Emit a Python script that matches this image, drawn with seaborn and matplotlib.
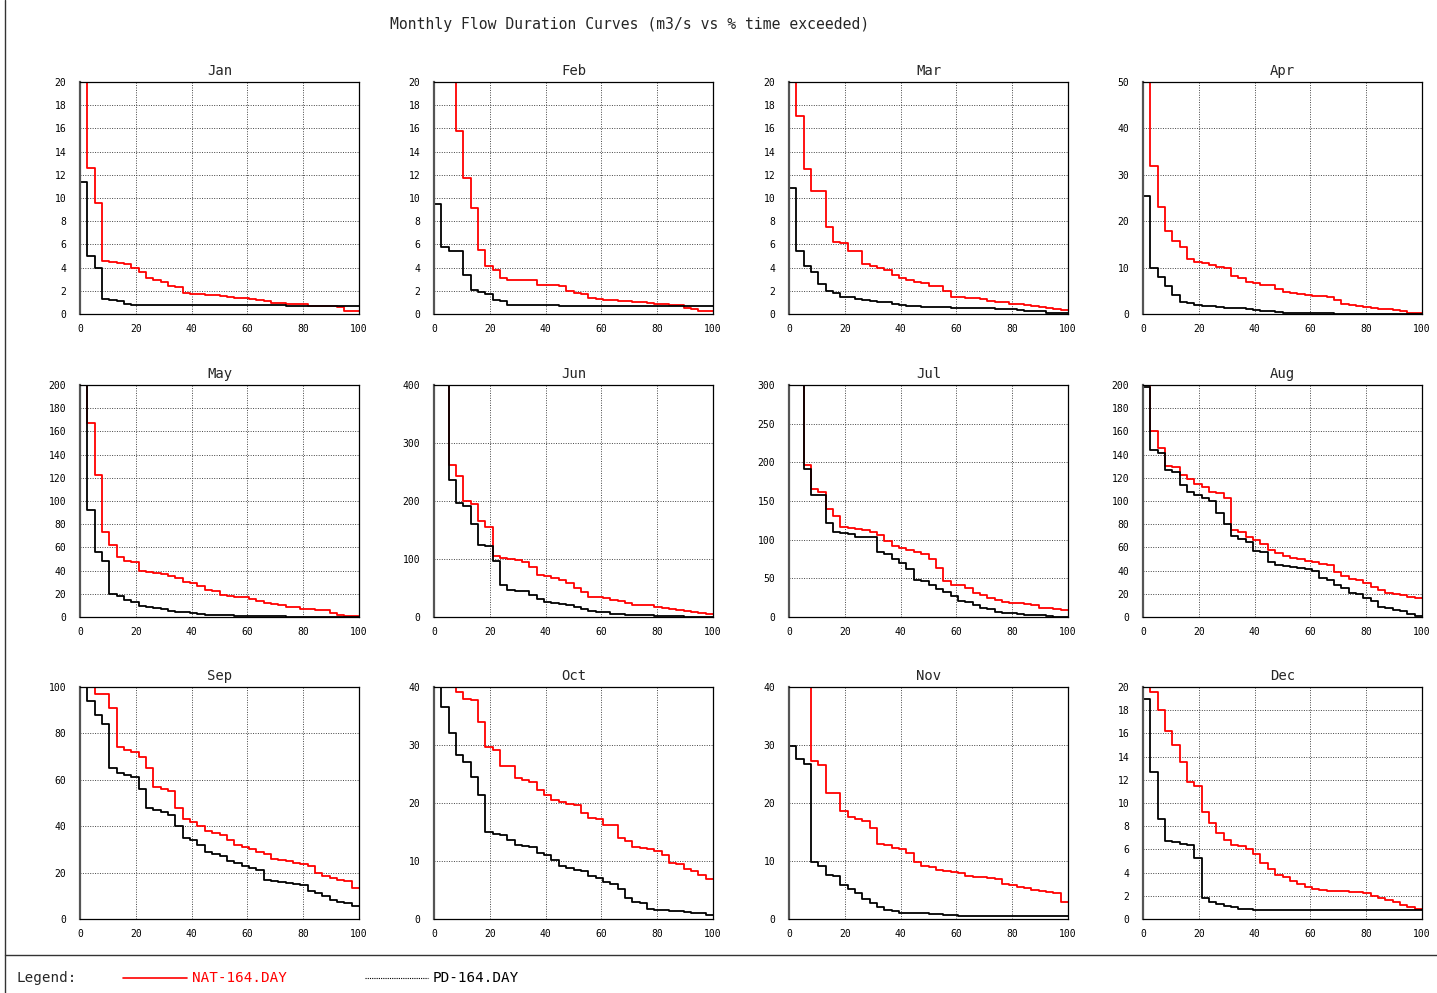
import numpy as np
import pandas as pd
import seaborn as sns
import matplotlib.pyplot as plt
from matplotlib.ticker import MultipleLocator

months = ['Jan', 'Feb', 'Mar', 'Apr', 'May', 'Jun',
          'Jul', 'Aug', 'Sep', 'Oct', 'Nov', 'Dec']

# sorted flows (m3/s), one value per exceedance step (38 steps over 0-100 %)
nat_flow = {
    'Jan': [30, 12.6, 9.6, 4.6, 4.5, 4.4, 4.3, 4.0, 3.6, 3.1, 2.9, 2.8, 2.4, 2.3, 1.8, 1.7, 1.7, 1.65, 1.6,
            1.55, 1.45, 1.4, 1.4, 1.3, 1.25, 1.1, 0.95, 0.95, 0.9, 0.85, 0.85, 0.7, 0.7, 0.7, 0.65, 0.6, 0.3, 0.3],
    'Feb': [40, 40, 40, 15.8, 11.7, 9.1, 5.5, 4.1, 3.8, 3.1, 2.9, 2.9, 2.9, 2.9, 2.5, 2.5, 2.5, 2.45, 2.0,
            1.8, 1.75, 1.35, 1.3, 1.25, 1.2, 1.15, 1.1, 1.05, 1.0, 0.95, 0.9, 0.85, 0.8, 0.75, 0.55, 0.45, 0.3, 0.25],
    'Mar': [40, 17.1, 12.5, 10.6, 10.6, 7.5, 6.2, 6.1, 5.4, 5.4, 4.3, 4.1, 4.0, 3.8, 3.4, 3.1, 2.9, 2.8, 2.7,
            2.4, 2.4, 2.0, 1.5, 1.45, 1.4, 1.35, 1.3, 1.1, 1.05, 1.0, 0.85, 0.85, 0.75, 0.65, 0.6, 0.55, 0.4, 0.35],
    'Apr': [80, 32, 23, 17.8, 15.7, 14.4, 11.8, 11.3, 10.9, 10.6, 10.2, 9.9, 8.1, 7.8, 6.9, 6.7, 6.3, 6.2, 5.4,
            4.7, 4.6, 4.4, 4.0, 3.9, 3.8, 3.6, 3.1, 2.2, 2.0, 1.7, 1.5, 1.4, 1.1, 1.0, 0.9, 0.7, 0.3, 0.2],
    'May': [400, 167, 122, 73, 62, 52, 48, 47, 40, 39, 38, 37, 35, 34, 30, 29, 27, 23, 22,
            19, 18, 17, 17, 15.5, 14, 12, 11.5, 10.5, 8.5, 8.5, 7, 6.5, 6, 6, 3.5, 2, 1, 0.5],
    'Jun': [600, 600, 262, 243, 200, 195, 165, 155, 106, 102, 100, 98, 95, 87, 73, 70, 67, 64, 58,
            50, 43, 35, 34, 32, 30, 27, 24, 21, 21, 20, 18, 15, 13, 12, 10, 9, 7, 5],
    'Jul': [400, 400, 196, 165, 162, 140, 130, 116, 115, 114, 113, 110, 106, 98, 92, 89, 87, 84, 81,
            75, 63, 46, 41, 41, 37, 31, 29, 25, 22, 19, 18, 18, 17, 16, 12, 11, 10, 9],
    'Aug': [300, 160, 146, 130, 129, 122, 119, 115, 112, 108, 107, 103, 75, 73, 69, 66, 63, 58, 55,
            53, 51, 50, 48, 47, 46, 45, 39, 35, 33, 32, 29, 26, 23, 21, 20, 19, 17, 16],
    'Sep': [150, 150, 97, 97, 91, 74, 73, 72, 70, 65, 57, 56, 55, 48, 43, 42, 40, 38, 37,
            36, 34, 32, 31, 30, 29, 28, 26, 25.5, 25, 24, 23.5, 23, 20, 18.5, 17.5, 17, 16.5, 13.5],
    'Oct': [60, 60, 60, 39.2, 38, 37.7, 34, 29.6, 29.1, 26.4, 26.4, 24.3, 24.0, 23.7, 22.2, 21.4, 20.5, 20.2, 19.9,
            19.7, 18.3, 17.4, 17.2, 16.2, 16.2, 14.0, 13.4, 12.4, 12.2, 12.0, 11.8, 11.0, 9.7, 9.4, 8.6, 8.2, 7.6, 6.9],
    'Nov': [60, 60, 60, 27.3, 26.5, 21.8, 21.7, 18.7, 17.6, 17.3, 16.9, 15.7, 13.0, 12.8, 12.3, 12.0, 11.4, 9.8, 9.2,
            9.0, 8.5, 8.3, 8.1, 7.9, 7.5, 7.3, 7.3, 7.1, 6.9, 6.0, 5.8, 5.5, 5.4, 5.0, 4.8, 4.6, 4.5, 3.0],
    'Dec': [40, 19.6, 18.0, 16.2, 15.0, 13.5, 11.8, 11.5, 9.2, 8.3, 7.4, 6.8, 6.4, 6.3, 6.0, 5.6, 4.8, 4.3, 3.8,
            3.6, 3.3, 3.0, 2.8, 2.6, 2.5, 2.45, 2.4, 2.4, 2.35, 2.3, 2.2, 2.0, 1.8, 1.6, 1.5, 1.2, 1.0, 0.9],
}

pd_flow = {
    'Jan': [11.4, 5.0, 4.0, 1.3, 1.2, 1.15, 0.85, 0.8, 0.8, 0.8, 0.75, 0.75, 0.75, 0.75, 0.75, 0.75, 0.75, 0.75, 0.75,
            0.75, 0.75, 0.75, 0.75, 0.75, 0.75, 0.75, 0.75, 0.75, 0.73, 0.73, 0.73, 0.73, 0.72, 0.72, 0.72, 0.72, 0.72, 0.72],
    'Feb': [9.5, 5.8, 5.4, 5.4, 3.4, 2.1, 1.9, 1.7, 1.2, 1.1, 0.8, 0.8, 0.78, 0.76, 0.75, 0.75, 0.74, 0.73, 0.72,
            0.72, 0.7, 0.7, 0.7, 0.7, 0.7, 0.7, 0.7, 0.7, 0.7, 0.7, 0.7, 0.7, 0.7, 0.7, 0.7, 0.68, 0.68, 0.68],
    'Mar': [10.9, 5.4, 4.1, 3.6, 2.6, 2.0, 1.8, 1.5, 1.45, 1.3, 1.2, 1.15, 1.05, 1.0, 0.9, 0.75, 0.7, 0.65, 0.62,
            0.6, 0.6, 0.58, 0.56, 0.55, 0.55, 0.55, 0.52, 0.5, 0.45, 0.45, 0.4, 0.35, 0.3, 0.28, 0.25, 0.05, 0.05, 0.05],
    'Apr': [25.4, 10.0, 7.9, 6.1, 4.0, 2.5, 2.4, 1.9, 1.8, 1.7, 1.6, 1.4, 1.3, 1.2, 1.0, 0.9, 0.7, 0.6, 0.5,
            0.3, 0.25, 0.2, 0.2, 0.15, 0.15, 0.12, 0.1, 0.08, 0.06, 0.05, 0.05, 0.05, 0.05, 0.05, 0.05, 0.05, 0.05, 0.05],
    'May': [300, 92, 56, 48, 20, 18, 15, 13, 9.5, 8.5, 7.5, 6.5, 5.5, 4.5, 4, 3.5, 3, 2, 1.8,
            1.5, 1.3, 1.2, 1.1, 1.0, 0.8, 0.7, 0.6, 0.5, 0.4, 0.4, 0.3, 0.3, 0.3, 0.3, 0.3, 0.3, 0.3, 0.3],
    'Jun': [600, 600, 237, 197, 192, 160, 125, 122, 97, 55, 47, 45, 44, 38, 31, 26, 24, 22, 20,
            17, 14, 10, 9, 8, 6, 5, 4, 4, 3, 3, 2, 2, 1.5, 1, 0.8, 0.6, 0.5, 0.5],
    'Jul': [400, 400, 192, 158, 158, 121, 110, 109, 107, 104, 103, 103, 84, 81, 75, 70, 62, 48, 47,
            41, 36, 32, 27, 21, 19, 15, 11, 10, 7, 5, 5, 4, 3, 2, 2, 1, 0.5, 0.3],
    'Aug': [198, 144, 141, 127, 125, 114, 108, 105, 103, 100, 90, 80, 70, 67, 65, 57, 56, 47, 45,
            44, 43, 42, 41, 40, 34, 32, 28, 25, 21, 20, 16, 14, 9, 8, 6, 5, 3, 1],
    'Sep': [150, 94, 88, 84, 65, 63, 62, 61, 56, 48, 47, 46, 45, 40, 35, 34, 32, 29, 28,
            27, 25, 24, 23, 22, 21, 17, 16.5, 16, 15.5, 15, 14.5, 12, 11, 10, 8, 7.5, 7, 5.5],
    'Oct': [60, 36.5, 32, 28.2, 27, 24.5, 21.3, 15, 14.6, 14.4, 13.6, 12.7, 12.6, 12.4, 11.3, 11.1, 10.2, 9.1, 8.8,
            8.4, 8.2, 7.5, 7.0, 6.3, 6.0, 5.2, 3.6, 3.0, 2.8, 1.7, 1.6, 1.5, 1.4, 1.3, 1.2, 1.1, 1.0, 0.7],
    'Nov': [29.8, 27.6, 26.7, 9.9, 9.2, 7.6, 7.4, 5.8, 5.1, 4.4, 3.4, 2.8, 2.1, 1.5, 1.4, 1.1, 1.05, 1.0, 0.95,
            0.9, 0.8, 0.7, 0.65, 0.6, 0.6, 0.6, 0.6, 0.6, 0.6, 0.6, 0.6, 0.6, 0.6, 0.6, 0.6, 0.6, 0.6, 0.6],
    'Dec': [19.0, 12.7, 8.6, 6.7, 6.6, 6.5, 6.4, 5.3, 1.8, 1.5, 1.3, 1.1, 1.0, 0.9, 0.85, 0.8, 0.8, 0.8, 0.8,
            0.8, 0.8, 0.8, 0.8, 0.8, 0.8, 0.8, 0.8, 0.8, 0.8, 0.8, 0.8, 0.8, 0.8, 0.8, 0.8, 0.8, 0.8, 0.8],
}

# y axis: (max, major step, minor step)
y_axis = {
    'Jan': (20, 2, 1), 'Feb': (20, 2, 1), 'Mar': (20, 2, 1), 'Apr': (50, 10, 2),
    'May': (200, 20, 10), 'Jun': (400, 100, 20), 'Jul': (300, 50, 10), 'Aug': (200, 20, 10),
    'Sep': (100, 20, 5), 'Oct': (40, 10, 2), 'Nov': (40, 10, 2), 'Dec': (20, 2, 1),
}

series_names = ['NAT-164.DAY', 'PD-164.DAY']
series_colors = {'NAT-164.DAY': '#ff0000', 'PD-164.DAY': '#000000'}

sns.set_style('white')
plt.rcParams['font.family'] = ['DejaVu Sans Mono']

W, H = 1437, 993
fig = plt.figure(figsize=(W / 100, H / 100), dpi=100)

col_left = [80, 434, 789, 1143]
row_top = [82, 385, 687]
ax_w, ax_h = 279, 232


def curve_frame(month):
    frames = []
    for name, src in zip(series_names, [nat_flow, pd_flow]):
        vals = src[month]
        n = len(vals)
        pct = [100.0 * i / n for i in range(n)] + [100.0]
        flow = list(vals) + [vals[-1]]
        frames.append(pd.DataFrame({'pct': pct, 'flow': flow, 'series': name}))
    return pd.concat(frames, ignore_index=True)


for k, month in enumerate(months):
    r, c = divmod(k, 4)
    ax = fig.add_axes([col_left[c] / W, 1 - (row_top[r] + ax_h) / H, ax_w / W, ax_h / H])
    df = curve_frame(month)
    sns.lineplot(data=df, x='pct', y='flow', hue='series', palette=series_colors,
                 drawstyle='steps-post', estimator=None, sort=False, legend=False,
                 linewidth=1.3, ax=ax)
    ymax, major, minor = y_axis[month]
    ax.set_xlim(0, 100)
    ax.set_ylim(0, ymax)
    ax.xaxis.set_major_locator(MultipleLocator(20))
    ax.xaxis.set_minor_locator(MultipleLocator(10))
    ax.yaxis.set_major_locator(MultipleLocator(major))
    ax.yaxis.set_minor_locator(MultipleLocator(minor))
    ax.grid(True, which='major', color='#444444', linestyle=(0, (1, 1.5)), linewidth=0.7)
    ax.tick_params(which='both', direction='in', labelsize=7, colors='black')
    ax.tick_params(axis='y', which='major', pad=10)
    ax.tick_params(axis='x', which='major', pad=7)
    ax.tick_params(which='major', length=5, width=0.8)
    ax.tick_params(which='minor', length=3, width=0.8)
    ax.set_xlabel('')
    ax.set_ylabel('')
    ax.set_title(month, fontsize=10, pad=5)
    for s in ax.spines.values():
        s.set_color('black')
        s.set_linewidth(0.9)
    ax.spines['left'].set_linewidth(1.6)
    ax.spines['left'].set_color('#555555')

fig.text(630 / W, 1 - 25 / H, 'Monthly Flow Duration Curves (m3/s vs % time exceeded)',
         ha='center', va='center', fontsize=10.6)

# frame lines
fig.add_artist(plt.Line2D([5 / W, 5 / W], [0, 1], color='#333333', linewidth=1.0))
fig.add_artist(plt.Line2D([5 / W, 1], [1 - 955 / H, 1 - 955 / H], color='#333333', linewidth=1.0))

# legend row
ly = 1 - 978 / H
fig.text(17 / W, ly, 'Legend:', ha='left', va='center', fontsize=10.3)
fig.add_artist(plt.Line2D([123 / W, 187 / W], [ly, ly], color=series_colors['NAT-164.DAY'], linewidth=1.2))
fig.text(192 / W, ly, 'NAT-164.DAY', ha='left', va='center', fontsize=10.3, color=series_colors['NAT-164.DAY'])
fig.add_artist(plt.Line2D([365 / W, 428 / W], [ly, ly], color='black', linewidth=0.8, linestyle=(0, (1, 1))))
fig.text(433 / W, ly, 'PD-164.DAY', ha='left', va='center', fontsize=10.3, color='black')

fig.savefig('out.png', dpi=100)
